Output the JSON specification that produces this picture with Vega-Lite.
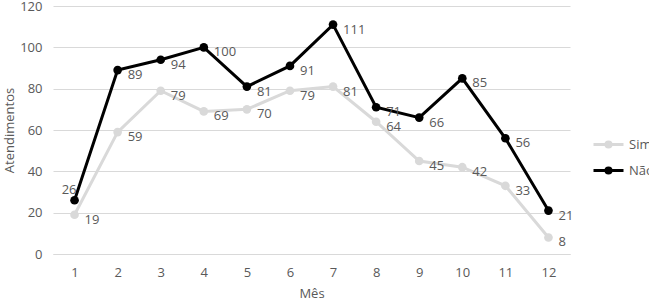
{
  "$schema": "https://vega.github.io/schema/vega-lite/v6.json",
  "width": 517,
  "height": 248,
  "autosize": {"type": "none"},
  "padding": {"left": 53, "top": 6, "right": 79, "bottom": 46},
  "config": {
    "font": "Open Sans",
    "view": {"stroke": null},
    "axis": {
      "labelColor": "#595959",
      "titleColor": "#595959",
      "labelFontSize": 13,
      "titleFontSize": 13,
      "titleFontWeight": "normal",
      "labelFont": "Open Sans",
      "titleFont": "Open Sans",
      "gridColor": "#d9d9d9",
      "domainColor": "#d9d9d9",
      "ticks": false
    },
    "legend": {"labelFont": "Open Sans", "labelFontSize": 13, "labelColor": "#595959"}
  },
  "data": {
    "values": [
      {"mes": 1, "serie": "Sim", "valor": 19},
      {"mes": 2, "serie": "Sim", "valor": 59},
      {"mes": 3, "serie": "Sim", "valor": 79},
      {"mes": 4, "serie": "Sim", "valor": 69},
      {"mes": 5, "serie": "Sim", "valor": 70},
      {"mes": 6, "serie": "Sim", "valor": 79},
      {"mes": 7, "serie": "Sim", "valor": 81},
      {"mes": 8, "serie": "Sim", "valor": 64},
      {"mes": 9, "serie": "Sim", "valor": 45},
      {"mes": 10, "serie": "Sim", "valor": 42},
      {"mes": 11, "serie": "Sim", "valor": 33},
      {"mes": 12, "serie": "Sim", "valor": 8},
      {"mes": 1, "serie": "Não", "valor": 26},
      {"mes": 2, "serie": "Não", "valor": 89},
      {"mes": 3, "serie": "Não", "valor": 94},
      {"mes": 4, "serie": "Não", "valor": 100},
      {"mes": 5, "serie": "Não", "valor": 81},
      {"mes": 6, "serie": "Não", "valor": 91},
      {"mes": 7, "serie": "Não", "valor": 111},
      {"mes": 8, "serie": "Não", "valor": 71},
      {"mes": 9, "serie": "Não", "valor": 66},
      {"mes": 10, "serie": "Não", "valor": 85},
      {"mes": 11, "serie": "Não", "valor": 56},
      {"mes": 12, "serie": "Não", "valor": 21}
    ]
  },
  "encoding": {
    "x": {
      "field": "mes",
      "type": "ordinal",
      "scale": {"type": "point", "padding": 0.5},
      "axis": {"labelAngle": 0, "title": "Mês", "labelPadding": 12, "titlePadding": 8, "domain": true, "grid": false}
    },
    "y": {
      "field": "valor",
      "type": "quantitative",
      "scale": {"domain": [0, 120]},
      "axis": {"values": [0, 20, 40, 60, 80, 100, 120], "title": "Atendimentos", "domain": false, "labelPadding": 11, "titlePadding": 3}
    },
    "color": {
      "field": "serie",
      "type": "nominal",
      "sort": ["Sim", "Não"],
      "scale": {"domain": ["Sim", "Não"], "range": ["#d9d9d9", "#000000"]},
      "legend": {
        "title": null,
        "orient": "none",
        "legendX": 539,
        "legendY": 122,
        "symbolType": "M-1,0H1M-0.17,0A0.17,0.17 0 1,0 0.17,0A0.17,0.17 0 1,0 -0.17,0",
        "symbolSize": 900,
        "symbolStrokeWidth": 3,
        "labelOffset": 4,
        "rowPadding": -5
      }
    }
  },
  "layer": [
    {"mark": {"type": "line", "strokeWidth": 3}},
    {"mark": {"type": "point", "filled": true, "size": 75, "opacity": 1}},
    {
      "transform": [{"filter": "!(datum.mes == 1 && datum.serie == 'Não')"}],
      "mark": {"type": "text", "align": "left", "baseline": "middle", "dx": 10, "dy": 5, "fontSize": 13},
      "encoding": {"text": {"field": "valor", "type": "quantitative"}, "color": {"value": "#595959"}}
    },
    {
      "transform": [{"filter": "datum.mes == 1 && datum.serie == 'Não'"}],
      "mark": {"type": "text", "align": "right", "baseline": "middle", "dx": 2, "dy": -10, "fontSize": 13},
      "encoding": {"text": {"field": "valor", "type": "quantitative"}, "color": {"value": "#595959"}}
    }
  ]
}
